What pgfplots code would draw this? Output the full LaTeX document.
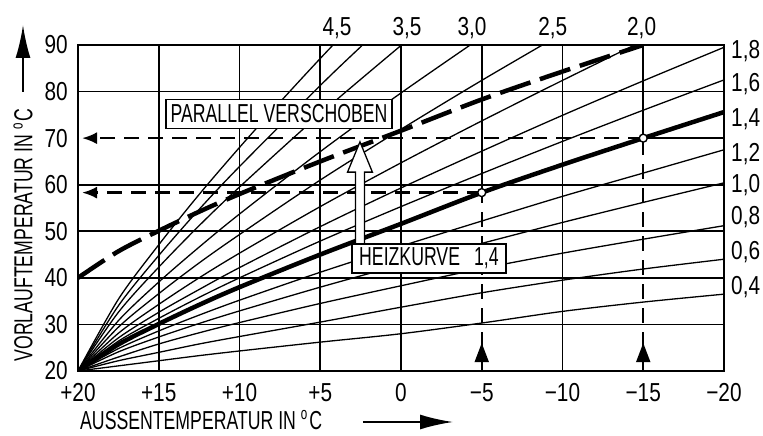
\documentclass[border=0pt]{standalone}
\usepackage{fontspec}
\setmainfont{Liberation Sans}[FakeStretch=0.68]
\newfontfamily\numfont{Liberation Sans}[FakeStretch=0.8]
\usepackage{pgfplots}
\pgfplotsset{compat=1.18}
\usetikzlibrary{arrows.meta}
\newcommand{\degr}{\raisebox{0.38em}{\fontsize{17}{17}\selectfont o}\hspace{0.08em}}
\begin{document}
\begin{tikzpicture}[font=\fontsize{26}{30}\selectfont,
  gridl/.style={black, line width=1.7pt},
  dsh/.style={black, line width=2.4pt, dash pattern=on 15pt off 9pt},
  thinc/.style={black, line width=1.3pt, smooth, tension=0.5},
  lab/.style={font=\numfont\fontsize{26}{30}\selectfont, inner sep=0pt}]
\begin{axis}[
  at={(0,0)}, anchor=south,
  scale only axis, width=646pt, height=326pt,
  xmin=-20, xmax=20, ymin=20, ymax=90, x dir=reverse,
  xtick={-20,-15,...,20},
  xticklabels={−20,−15,−10,−5,0,+5,+10,+15,+20},
  ytick={20,30,...,90},
  yticklabels={20,30,40,50,60,70,80,90},
  major tick length=0pt,
  axis line style={line width=1.8pt},
  tick label style={font=\numfont\fontsize{26}{30}\selectfont, inner sep=0pt},
  xticklabel style={anchor=north, yshift=-12pt},
  yticklabel style={anchor=east, xshift=-10pt},
  clip mode=individual,
]
% grid
\pgfplotsinvokeforeach{15,10,5,0,-10}{\draw[gridl] (axis cs:#1,20) -- (axis cs:#1,90);}
\pgfplotsinvokeforeach{30,40,50,60,80}{\draw[gridl] (axis cs:-20,#1) -- (axis cs:20,#1);}
\draw[gridl] (axis cs:-15,70) -- (axis cs:-20,70);
\draw[gridl] (axis cs:-5,58.3) -- (axis cs:-5,90);
\draw[gridl] (axis cs:-15,70) -- (axis cs:-15,90);

% heating curves
\addplot[thinc] coordinates {(20,20) (17.5,21.1) (15,22.2) (12.5,23.3) (10,24.3) (5,26.2) (0,28.0) (-5,30.3) (-10,32.8) (-15,34.8) (-20,36.5)};
\addplot[thinc] coordinates {(20,20) (17.5,22.2) (15,24.0) (12.5,25.8) (10,27.4) (5,30.5) (0,33.7) (-5,36.8) (-10,39.5) (-15,41.9) (-20,44.0)};
\addplot[thinc] coordinates {(20,20) (17.5,23.0) (15,25.8) (12.5,28.2) (10,30.4) (5,34.5) (0,38.3) (-5,42.0) (-10,45.3) (-15,48.3) (-20,51.2)};
\addplot[thinc] coordinates {(20,20) (17.5,24.1) (15,27.3) (12.5,30.2) (10,32.9) (5,38.0) (0,42.8) (-5,47.4) (-10,51.9) (-15,56.2) (-20,60.4)};
\addplot[thinc] coordinates {(20,20) (17.5,24.8) (15,28.6) (12.5,32.0) (10,35.2) (5,41.2) (0,46.8) (-5,52.2) (-10,57.5) (-15,62.5) (-20,67.5)};
\addplot[thinc] coordinates {(20,20) (17.5,26.4) (15,31.3) (12.5,35.8) (10,40.0) (5,47.9) (0,55.3) (-5,62.4) (-10,69.3) (-15,76.0) (-20,82.5)};
\addplot[thinc] coordinates {(20,20) (17.5,27.1) (15,32.6) (12.5,37.5) (10,42.2) (5,51.0) (0,59.3) (-5,67.2) (-10,74.9) (-15,82.3) (-20,89.5)};
\addplot[thinc] coordinates {(20,20) (17.5,28.1) (15,34.3) (12.5,40.0) (10,45.3) (5,55.3) (0,64.7) (-5,73.7) (-10,82.4) (-15,90.9)};
\addplot[thinc] coordinates {(20,20) (17.5,29.4) (15,36.6) (12.5,43.2) (10,49.3) (5,61.0) (0,71.9) (-5,82.4) (-10,92.5)};
\addplot[thinc] coordinates {(20,20) (17.5,30.8) (15,39.1) (12.5,46.6) (10,53.7) (5,67.1) (0,79.7) (-5,91.7)};
\addplot[thinc] coordinates {(20,20) (17.5,32.6) (15,42.3) (12.5,51.2) (10,59.5) (5,75.2) (0,89.9) (-2.5,97.0)};
\addplot[thinc] coordinates {(20,20) (17.5,34.0) (15,44.8) (12.5,54.7) (10,63.9) (5,81.3) (2.5,89.6) (0,97.7)};
\addplot[thinc] coordinates {(20,20) (17.5,35.4) (15,47.1) (12.5,57.9) (10,68.0) (7.5,77.7) (5,87.1) (2.5,96.2)};
% heating curve 1.4 (thick)
\addplot[black, line width=4.5pt, smooth, tension=0.5] coordinates {(20,20) (17.5,25.7) (15,30.1) (12.5,34.2) (10,38.0) (5,45.0) (0,51.6) (-5,58.3) (-10,64.3) (-15,70.0) (-20,75.6)};
% parallel shifted curve (dashed)
\addplot[black, line width=4.5pt, smooth, tension=0.5, dash pattern=on 32pt off 10pt] coordinates {(20,40) (17.5,45.7) (15,50.1) (12.5,54.2) (10,58.0) (5,65.0) (0,71.6) (-5,78.3) (-10,84.3) (-15,90.0)};

% reading lines
\draw[dsh] (axis cs:-5,20) -- (axis cs:-5,58.3);
\draw[dsh] (axis cs:-15,20) -- (axis cs:-15,70);
\draw[dsh, -{Latex[length=15pt,width=12pt]}] (axis cs:-5,58.3) -- (axis cs:19.75,58.3);
\draw[dsh, -{Latex[length=15pt,width=12pt]}] (axis cs:-15,70) -- (axis cs:19.75,70);
\fill (axis cs:-5,26.0) -- (axis cs:-5.45,21.9) -- (axis cs:-4.55,21.9) -- cycle;
\fill (axis cs:-15,26.0) -- (axis cs:-15.45,21.9) -- (axis cs:-14.55,21.9) -- cycle;
\draw[fill=white, line width=1.4pt] (axis cs:-5,58.3) circle[radius=4pt];
\draw[fill=white, line width=1.4pt] (axis cs:-15,70) circle[radius=4pt];

% hollow arrow
\draw[fill=white, line width=1.3pt] (axis cs:2.54,69.2) -- (axis cs:1.77,62.7) -- (axis cs:2.26,62.7) -- (axis cs:2.26,47.3) -- (axis cs:2.82,47.3) -- (axis cs:2.82,62.7) -- (axis cs:3.31,62.7) -- cycle;

% boxes
\node[draw, fill=white, line width=1.5pt, inner sep=0pt, minimum width=226pt, minimum height=29pt] at (axis cs:7.55,75.2) {PARALLEL VERSCHOBEN};
\node[draw, fill=white, line width=1.5pt, inner sep=0pt, minimum width=154pt, minimum height=29pt] at (axis cs:-1.73,44.15) {HEIZKURVE\hspace{0.35em} 1,4};

% curve labels top
\node[lab, anchor=base] at (axis cs:3.96,90) [yshift=9pt] {4,5};
\node[lab, anchor=base] at (axis cs:-0.37,90) [yshift=9pt] {3,5};
\node[lab, anchor=base] at (axis cs:-4.4,90) [yshift=9pt] {3,0};
\node[lab, anchor=base] at (axis cs:-9.4,90) [yshift=9pt] {2,5};
\node[lab, anchor=base] at (axis cs:-14.9,90) [yshift=9pt] {2,0};
% curve labels right
\node[lab, anchor=base west] at (axis cs:-20,87.1) [xshift=7pt] {1,8};
\node[lab, anchor=base west] at (axis cs:-20,80.0) [xshift=7pt] {1,6};
\node[lab, anchor=base west] at (axis cs:-20,72.5) [xshift=7pt] {1,4};
\node[lab, anchor=base west] at (axis cs:-20,65.0) [xshift=7pt] {1,2};
\node[lab, anchor=base west] at (axis cs:-20,58.3) [xshift=7pt] {1,0};
\node[lab, anchor=base west] at (axis cs:-20,51.5) [xshift=7pt] {0,8};
\node[lab, anchor=base west] at (axis cs:-20,43.9) [xshift=7pt] {0,6};
\node[lab, anchor=base west] at (axis cs:-20,36.4) [xshift=7pt] {0,4};
\end{axis}
% axis titles and arrows
\node[rotate=90, inner sep=0pt] at (-378pt,136pt) {VORLAUFTEMPERATUR IN \degr C};
\draw[line width=2pt, -{Latex[length=33pt,width=15pt]}] (-378pt,279pt) -- (-378pt,346pt);
\node[anchor=west, inner sep=0pt] at (-321pt,-49pt) {AUSSENTEMPERATUR IN \degr C};
\draw[line width=2pt, -{Latex[length=33pt,width=15pt]}] (-38pt,-51pt) -- (52pt,-51pt);
\pgfresetboundingbox
\path[use as bounding box] (-401pt,-65pt) rectangle (362pt,371pt);
\end{tikzpicture}
\end{document}
